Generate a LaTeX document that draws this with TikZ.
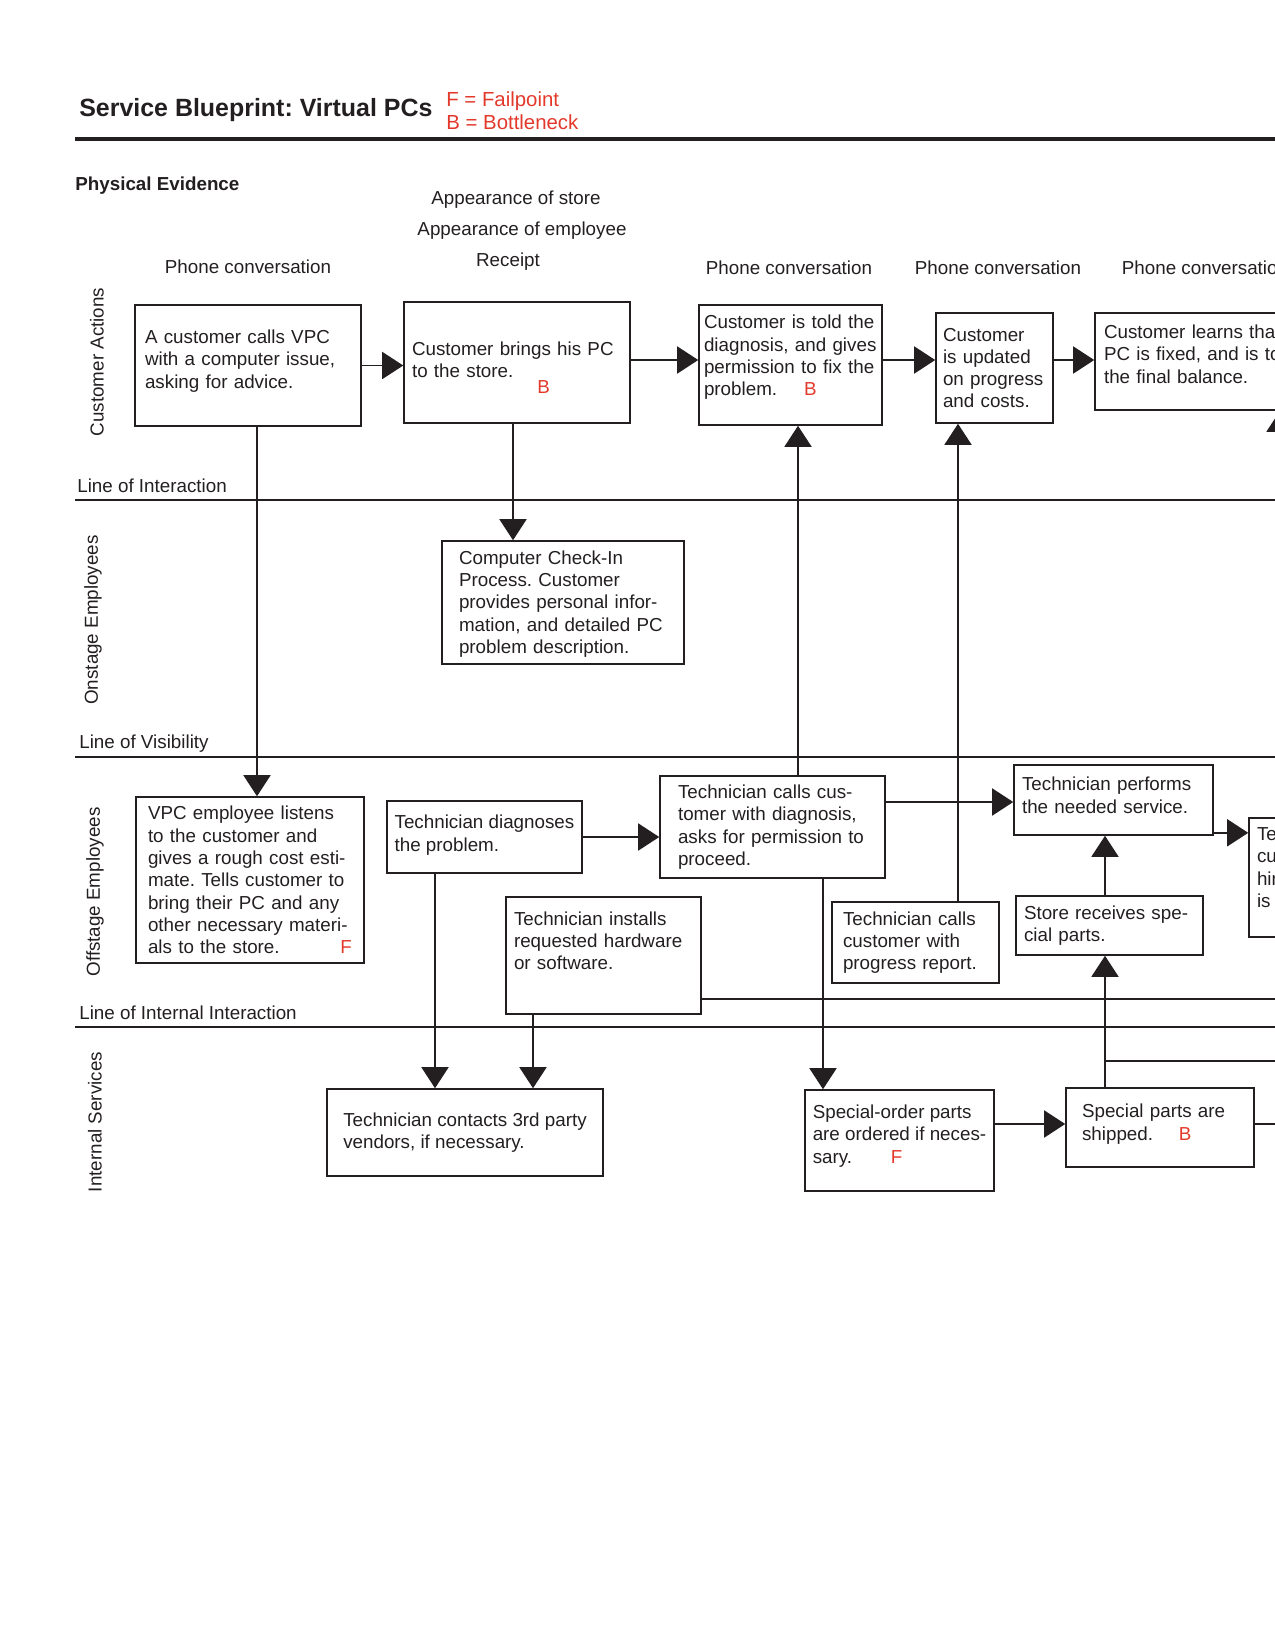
\documentclass[tikz,border=0pt]{standalone}
\usepackage{fontspec}
\setmainfont{Liberation Sans}
\usepackage{xcolor}
\usetikzlibrary{arrows.meta,positioning}
\definecolor{ink}{HTML}{231F20}
\definecolor{flagred}{HTML}{E2392B}
\newcommand{\bodysize}{\fontsize{10.7pt}{12.7pt}\selectfont}
\newcommand{\flag}[1]{\textcolor{flagred}{#1}}
\newcommand{\padbelow}[1]{\rule[-#1]{0pt}{#1}}
\newcommand{\padabove}[1]{\rule{0pt}{#1}}
\frenchspacing

\begin{document}
\begin{tikzpicture}[x=0.02cm, y=-0.02cm, font=\bodysize,
    box/.style={draw=ink, line width=0.9pt, inner sep=0pt, align=left, text=ink},
    flow/.style={draw=ink, line width=0.9pt, -{Triangle[length=0.42cm,width=0.54cm]}},
    wire/.style={draw=ink, line width=0.9pt},
    laneline/.style={draw=ink, line width=0.8pt},
    lbl/.style={text=ink, inner sep=0pt}]
\useasboundingbox (0,0) rectangle (1275,1651);
\clip (0,0) rectangle (1275,1651);

% heading
\node[lbl, anchor=west, font=\fontsize{14.2pt}{17pt}\selectfont\bfseries] (title) at (79,110) {Service Blueprint: Virtual PCs};
\node[lbl, anchor=west, align=left, text=flagred, font=\fontsize{11.6pt}{13pt}\selectfont] (legend) at (446,110.5) {F = Failpoint\\B = Bottleneck};
\draw[ink, line width=2.8pt] (75,139) -- (1275,139);

% physical evidence
\node[lbl, anchor=west, font=\bodysize\bfseries] (phys) at (75,186) {Physical Evidence};
\node[lbl] (ev1) at (516,200) {Appearance of store};
\node[lbl] (ev2) at (522,231) {Appearance of employee};
\node[lbl] (ev3) at (508,262) {Receipt};
\node[lbl] (ev0) at (248,267) {Phone conversation};
\node[lbl] (ev4) at (789,268) {Phone conversation};
\node[lbl] (ev5) at (998,268) {Phone conversation};
\node[lbl] (ev6) at (1205,268) {Phone conversation};

% lanes
\node[lbl, rotate=90] (laneCA) at (97,362) {Customer Actions};
\node[lbl, rotate=90] (laneON) at (93,620) {Onstage Employees};
\node[lbl, rotate=90] (laneOFF) at (95,892) {Offstage Employees};
\node[lbl, rotate=90] (laneIS) at (95,1122) {Internal Services};
\node[lbl, anchor=west] (loi) at (77,486) {Line of Interaction};
\draw[laneline] (75,500) -- (1275,500);
\node[lbl, anchor=west] (lov) at (79,744) {Line of Visibility};
\draw[laneline] (75,757) -- (1275,757);
\node[lbl, anchor=west] (loii) at (79,1013) {Line of Internal Interaction};
\draw[laneline] (75,1027) -- (1275,1027);

% customer actions
\node[box, minimum width=4.52cm, minimum height=2.42cm, text width=4.12cm] (call) at (248,365.5) {A customer calls VPC\\with a computer issue,\\asking for advice.\padbelow{7.3pt}};
\node[box, minimum width=4.52cm, minimum height=2.42cm, text width=4.2cm] (bring) at (517,362.5) {\padabove{13.2pt}Customer brings his PC\\to the store.\\[-3.7pt]\hspace*{71.4pt}\flag{B}};
\node[box, minimum width=3.66cm, minimum height=2.4cm, text width=3.46cm] (told) at (790.5,365) {Customer is told the\\diagnosis, and gives\\permission to fix the\\problem.\hspace{15.3pt}\flag{B}\padbelow{11pt}};
\node[box, minimum width=2.34cm, minimum height=2.2cm, text width=2.06cm] (upd) at (994.5,368) {Customer\\is updated\\on progress\\and costs.};
\node[box, minimum width=5cm, minimum height=1.94cm, text width=4.64cm] (learn) at (1220,361.5) {Customer learns that\\PC is fixed, and is told\\the final balance.\padbelow{8.4pt}};

% onstage
\node[box, minimum width=4.84cm, minimum height=2.46cm, text width=4.16cm] (check) at (563,602.5) {\padabove{9.6pt}Computer Check-In\\Process. Customer\\provides personal infor-\\mation, and detailed PC\\problem description.};

% offstage
\node[box, minimum width=4.56cm, minimum height=3.32cm, text width=4.08cm] (listen) at (250,880) {VPC employee listens\\to the customer and\\gives a rough cost esti-\\mate. Tells customer to\\bring their PC and any\\other necessary materi-\\als to the store.\hfill\flag{F}};
\node[box, minimum width=3.9cm, minimum height=1.44cm] (diag) at (484.5,837) {Technician diagnoses\\the problem.\padbelow{4.4pt}};
\node[box, minimum width=4.5cm, minimum height=2.04cm, text width=3.78cm] (calls) at (772.5,827) {Technician calls cus-\\tomer with diagnosis,\\asks for permission to\\proceed.};
\node[box, minimum width=3.98cm, minimum height=1.4cm, text width=3.66cm] (perform) at (1113.5,800) {Technician performs\\the needed service.\padbelow{5.5pt}};
\node[box, minimum width=4cm, minimum height=2.38cm, text width=3.68cm] (tell) at (1349,877.5) {Technician calls\\customer to tell\\him the PC\\is done.\padbelow{11.9pt}};
\node[box, minimum width=3.74cm, minimum height=1.18cm, text width=3.42cm] (receive) at (1109.5,925.5) {Store receives spe-\\cial parts.};
\node[box, minimum width=3.9cm, minimum height=2.34cm, text width=3.58cm] (install) at (603.5,955.5) {Technician installs\\requested hardware\\or software.\padbelow{17pt}};
\node[box, minimum width=3.34cm, minimum height=1.62cm, text width=2.9cm] (progress) at (915.5,942.5) {Technician calls\\customer with\\progress report.};

% internal services
\node[box, minimum width=5.52cm, minimum height=1.74cm] (vendor) at (465,1132.5) {Technician contacts 3rd party\\vendors, if necessary.};
\node[box, minimum width=3.78cm, minimum height=2.02cm] (order) at (899.5,1140.5) {Special-order parts\\are ordered if neces-\\sary.\hspace{22pt}\flag{F}\padbelow{7.3pt}};
\node[box, minimum width=3.76cm, minimum height=1.58cm, text width=3.12cm] (ship) at (1160,1127.5) {Special parts are\\shipped.\hspace{14.7pt}\flag{B}\padbelow{6.1pt}};

% connector columns and rows
\coordinate (cA) at (257,0);
\coordinate (cB) at (513,0);
\coordinate (cC) at (798,0);
\coordinate (cD) at (958,0);
\coordinate (cE) at (435,0);
\coordinate (cF) at (533,0);
\coordinate (cG) at (823,0);
\coordinate (cH) at (1105,0);
\coordinate (cI) at (1280,640);
\coordinate (rowC) at (0,360);
\coordinate (rowV) at (0,802);
\coordinate (rowI) at (0,999);
\coordinate (rowS) at (0,1061);
\coordinate (rowP) at (0,1124);
\coordinate (edgeR) at (1290,0);
\coordinate (svcout) at ([yshift=1.7pt]perform.south east);

% flows
\draw[flow] (call.east) -- (call.east -| bring.west);
\draw[flow] (bring.east |- rowC) -- (told.west |- rowC);
\draw[flow] (told.east |- rowC) -- (upd.west |- rowC);
\draw[flow] (upd.east |- rowC) -- (learn.west |- rowC);
\draw[flow] (cI) -- (learn.south -| cI);
\draw[flow] (call.south -| cA) -- (listen.north -| cA);
\draw[flow] (bring.south -| cB) -- (check.north -| cB);
\draw[flow] (calls.north -| cC) -- (told.south -| cC);
\draw[flow] (progress.north -| cD) -- (upd.south -| cD);
\draw[flow] (diag.east) -- (diag.east -| calls.west);
\draw[flow] (calls.east |- rowV) -- (perform.west |- rowV);
\draw[flow] (svcout) -- (svcout -| tell.west);
\draw[flow] (diag.south -| cE) -- (vendor.north -| cE);
\draw[flow] (install.south -| cF) -- (vendor.north -| cF);
\draw[flow] (calls.south -| cG) -- (order.north -| cG);
\draw[flow] (order.east |- rowP) -- (ship.west |- rowP);
\draw[flow] (ship.north -| cH) -- (receive.south -| cH);
\draw[flow] (receive.north -| cH) -- (perform.south -| cH);
\draw[wire] (install.east |- rowI) -- (edgeR |- rowI);
\draw[wire] (ship.east |- rowP) -- (edgeR |- rowP);
\draw[wire] (cH |- rowS) -- (edgeR |- rowS);
\end{tikzpicture}
\end{document}
